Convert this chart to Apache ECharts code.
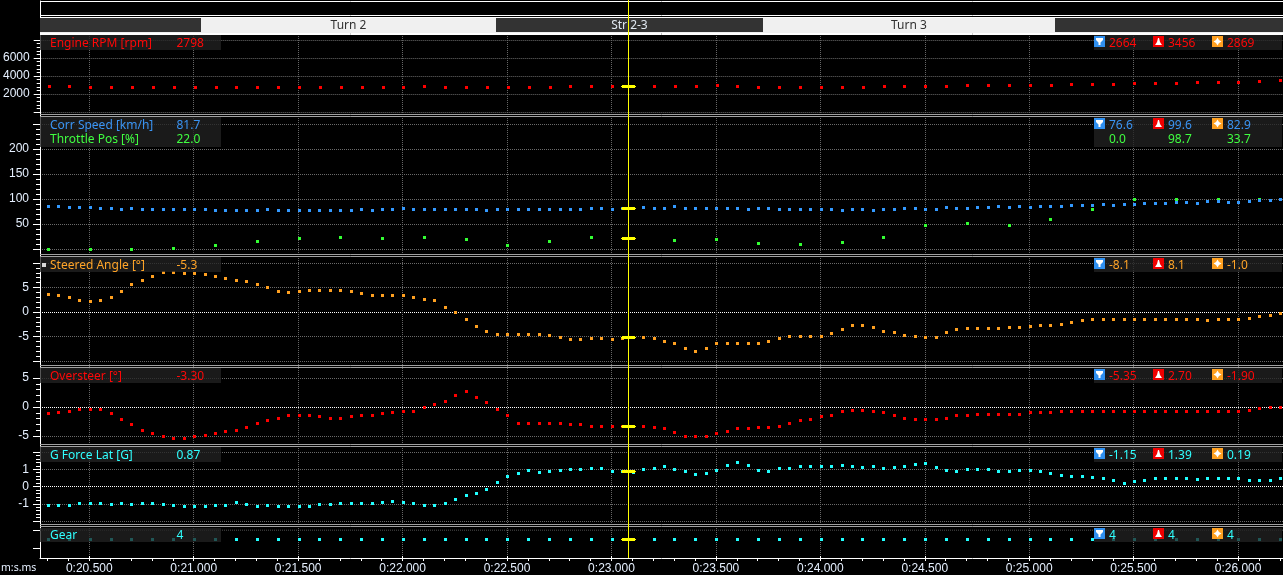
<!DOCTYPE html>
<html>
<head>
<meta charset="utf-8">
<title>Telemetry</title>
<style>html,body{margin:0;padding:0;background:#000}#chart{width:1283px;height:575px}</style>
<script src="https://cdn.jsdelivr.net/npm/echarts@6/dist/echarts.min.js"></script>
</head>
<body>
<div id="chart"></div>
<script>
// Lap-time window, seconds
const timeMin = 20.264;
const timeMax = 26.215;
const cursorTime = 23.08;
const firstSample = 20.304;
const sampleStep = 0.05;
const timeTicks = [20.5, 21, 21.5, 22, 22.5, 23, 23.5, 24, 24.5, 25, 25.5, 26];
const timeSubTicks = [20.3,20.4,20.5,20.6,20.7,20.8,20.9,21,21.1,21.2,21.3,21.4,21.5,21.6,21.7,21.8,21.9,22,22.1,22.2,22.3,22.4,22.5,22.6,22.7,22.8,22.9,23,23.1,23.2,23.3,23.4,23.5,23.6,23.7,23.8,23.9,24,24.1,24.2,24.3,24.4,24.5,24.6,24.7,24.8,24.9,25,25.1,25.2,25.3,25.4,25.5,25.6,25.7,25.8,25.9,26,26.1,26.2];

// Track sections: name, start time, end time
const sectionNames = ['', 'Turn 2', 'Str 2-3', 'Turn 3', ''];
const sectionStart = [20.264, 21.035, 22.447, 23.725, 25.123];
const sectionEnd = [21.035, 22.447, 23.725, 25.123, 26.215];

// Channels sampled every 0.1 s
const engineRpm = [2838,2838,2726,2726,2726,2726,2726,2726,2726,2726,2726,2726,2726,2726,2726,2726,2726,2726,2838,
  2726,2726,2726,2726,2726,2726,2838,2838,2838,2838,2838,2838,2838,2950,2838,2726,2726,2726,2726,2726,
  2726,2838,2838,2838,2838,2950,2950,2950,2950,2950,3062,3062,3062,3175,3175,3175,3287,3287,3287,3399,3456];
const gear = [4,4,4,4,4,4,4,4,4,4,4,4,4,4,4,4,4,4,4,4,4,4,4,4,4,4,4,4,4,4,4,4,4,4,4,4,4,4,4,4,4,4,4,4,4,4,4,4,4,4,4,4,4,4,4,4,4,4,4,4];

// Sampled every 0.2 s
const throttlePos = [0,0,0,2,8,16,22,24,22,24,20,8,16,24,22,18,20,12,10,14,24,48,52,48,60,80,98.7,98.7,98.7,98.7];

// Sampled every 0.05 s
const corrSpeed = [85.3,85.3,83.3,83.3,83.3,81.3,81.3,79.3,81.3,79.3,79.3,79.3,79.3,79.3,79.3,79.3,77.3,77.3,77.3,77.3,77.3,79.3,76.6,77.3,76.6,77.3,77.3,77.3,77.3,77.3,79.3,77.3,79.3,79.3,81.3,79.3,79.3,
  79.9,79.9,79.9,79.9,79.9,77.9,79.9,79.9,79.9,79.9,79.9,79.9,79.9,79.9,79.9,81.9,81.9,79.9,81.9,81.9,83.9,81.9,81.9,85.9,81.9,81.9,81.9,81.9,81.9,81.9,79.9,81.9,81.9,79.9,79.9,79.9,79.9,79.9,79.9,77.9,79.9,
  80,78,80,80,82,82,80,80,84,82,82,84,84,86,84,86,84,86,86,86,88,88,88,90,88,90,90,92,92,92,94,94,92,96,96,94,94,96,98,98,99.6];
const steeredAngle = [3.5,3.3,2.9,2.3,2.1,2.3,2.9,4.2,5.6,6.5,7.3,8.1,8.1,7.9,7.9,7.7,7.3,6.9,6.5,6.3,5.6,5.0,4.2,4.0,4.2,4.4,4.4,4.4,4.4,4.2,3.8,3.3,3.3,3.3,3.3,2.9,2.5,
  2.3,1.0,0,-1.5,-2.9,-4.0,-4.6,-4.6,-4.6,-4.6,-4.6,-4.8,-5.2,-5.6,-5.6,-5.4,-5.4,-5.6,-5.4,-5.2,-5.2,-5.4,-6.0,-6.5,-7.5,-8.1,-7.5,-6.5,-6.5,-6.5,-6.5,-6.5,-6.0,-5.4,-5.0,-5.0,-5.0,-5.0,-4.4,-3.5,-2.7,
  -2.7,-3.1,-4.0,-4.2,-4.8,-5.0,-5.2,-5.2,-4.2,-3.5,-3.3,-3.3,-3.3,-3.3,-3.1,-3.1,-2.9,-2.7,-2.7,-2.5,-2.1,-1.7,-1.5,-1.5,-1.5,-1.5,-1.5,-1.5,-1.5,-1.5,-1.5,-1.5,-1.5,-1.7,-1.5,-1.5,-1.5,-1.3,-1.0,-0.8,-0.4];
const oversteer = [-1.2,-0.9,-0.7,-0.35,-0.35,-0.5,-1.2,-2.07,-3.1,-3.97,-4.65,-5.17,-5.35,-5.35,-5.0,-4.83,-4.65,-4.31,-3.97,-3.45,-2.93,-2.41,-1.9,-1.55,-1.55,-1.55,-1.72,-1.9,-1.9,-1.72,-1.55,-1.38,-1.2,-1.03,-0.86,-0.7,-0.17,
  0.5,1.03,1.9,2.7,1.72,0.7,-0.35,-1.55,-2.93,-2.76,-2.76,-2.76,-2.93,-3.1,-3.1,-3.28,-3.28,-3.28,-3.28,-3.28,-3.28,-3.45,-3.79,-4.48,-5.0,-5.17,-5.0,-4.65,-4.14,-3.79,-3.79,-3.62,-3.45,-3.28,-2.76,-2.41,-2.24,-1.72,-1.38,-0.86,-0.52,
  -0.52,-0.69,-1.03,-1.55,-1.9,-2.07,-2.24,-2.07,-1.9,-1.55,-1.38,-1.21,-1.21,-1.21,-1.21,-1.21,-1.03,-1.03,-1.03,-0.86,-0.86,-0.69,-0.69,-0.69,-0.86,-0.86,-0.86,-0.86,-0.69,-0.69,-0.69,-0.69,-0.69,-0.69,-0.69,-0.69,-0.69,-0.52,-0.34,-0.17,0];
const gForceLat = [-1.08,-1.08,-1.08,-0.97,-0.97,-0.97,-1.02,-0.97,-1.02,-0.97,-0.97,-1.02,-1.08,-1.14,-1.14,-1.14,-1.08,-1.08,-0.91,-1.02,-1.14,-1.08,-1.14,-1.15,-1.14,-1.14,-1.02,-1.02,-0.97,-0.97,-0.97,-0.97,-0.91,-0.85,-0.91,-0.97,-1.08,
  -1.08,-0.97,-0.73,-0.5,-0.39,-0.15,0.25,0.6,0.77,0.95,0.83,0.89,0.95,1.0,1.0,1.06,1.06,0.89,0.89,0.83,1.0,1.06,1.18,1.0,0.89,0.71,0.77,0.95,1.24,1.39,1.24,0.95,0.89,1.06,1.06,1.18,1.18,1.18,1.18,1.24,1.18,
  1.12,1.18,1.06,1.12,1.18,1.29,1.35,1.12,0.95,0.89,1.0,1.0,1.0,0.89,0.89,0.95,0.95,0.89,0.77,0.66,0.6,0.6,0.54,0.48,0.37,0.19,0.31,0.37,0.48,0.48,0.48,0.48,0.43,0.48,0.48,0.48,0.48,0.37,0.37,0.37,0.48];

// Readouts: value at cursor, minimum, maximum, average
const rpmReadout = ['2798', '2664', '3456', '2869'];
const speedReadout = ['81.7', '76.6', '99.6', '82.9'];
const throttleReadout = ['22.0', '0.0', '98.7', '33.7'];
const steeredReadout = ['-5.3', '-8.1', '8.1', '-1.0'];
const oversteerReadout = ['-3.30', '-5.35', '2.70', '-1.90'];
const gForceReadout = ['0.87', '-1.15', '1.39', '0.19'];
const gearReadout = ['4', '4', '4', '4'];

const RED = '#ff0000', BLUE = '#3399ff', GREEN = '#33ff33', ORANGE = '#ffa020', CYAN = '#20ffff';
const TEXT_RED = '#ff0808', TEXT_BLUE = '#3a94f4', TEXT_GREEN = '#40ff40', TEXT_ORANGE = '#ffa428', TEXT_CYAN = '#30ffff';
const FONT = '12px "Noto Sans"';
const AXIS_FONT = '11.5px "Noto Sans"';
const GRID_GREY = '#6a6a6a';
const PLOT_LEFT = 40, PLOT_WIDTH = 1243, AXIS_BOTTOM = 558;

const dotted = { type: [1, 1], width: 1 };

// Value panels, top to bottom
const panels = [
  { top: 40, bottom: 112, min: 0, max: 8000, interval: 2000, edgeLabels: false, colors: [GRID_GREY] },
  { top: 124, bottom: 249, min: 0, max: 250, interval: 50, edgeLabels: false, colors: [GRID_GREY] },
  { top: 263, bottom: 361, min: -10, max: 10, interval: 5, edgeLabels: false, colors: [GRID_GREY, GRID_GREY, '#ffffff', GRID_GREY, GRID_GREY] },
  { top: 378, bottom: 436, min: -5, max: 5, interval: 5, edgeLabels: true, colors: [GRID_GREY, '#ffffff', GRID_GREY] },
  { top: 452, bottom: 521, min: -2, max: 2, interval: 1, edgeLabels: false, colors: [GRID_GREY, GRID_GREY, '#ffffff', GRID_GREY, GRID_GREY] }
];

const grids = [], xAxes = [], yAxes = [], series = [];

function hiddenX() {
  return { type: 'value', min: timeMin, max: timeMax, show: false };
}

panels.forEach(function (p, idx) {
  grids.push({ left: PLOT_LEFT, width: PLOT_WIDTH, top: p.top, height: p.bottom - p.top });
  xAxes.push(Object.assign(hiddenX(), { gridIndex: idx }));
  yAxes.push({
    type: 'value', gridIndex: idx, min: p.min, max: p.max, interval: p.interval,
    axisLine: { show: false },
    axisTick: { show: true, length: 7, lineStyle: { color: '#ffffff' } },
    minorTick: { show: true, splitNumber: 5, length: 4, lineStyle: { color: '#ffffff' } },
    minorSplitLine: { show: false },
    splitLine: { show: true, lineStyle: Object.assign({ color: p.colors }, dotted) },
    axisLabel: {
      color: '#e6f0ff', font: AXIS_FONT, margin: 11,
      showMinLabel: p.edgeLabels, showMaxLabel: p.edgeLabels,
      formatter: function (v) { return String(v); }
    }
  });
});

// Gear panel: the axis floor doubles as the time axis position
const GEAR = panels.length;
grids.push({ left: PLOT_LEFT, width: PLOT_WIDTH, top: 530, height: AXIS_BOTTOM - 530 });
xAxes.push(Object.assign(hiddenX(), { gridIndex: GEAR }));
yAxes.push({
  type: 'value', gridIndex: GEAR, min: 2, max: 5, interval: 1,
  axisLine: { show: false },
  axisTick: { show: true, length: 7, customValues: [3, 5], lineStyle: { color: '#ffffff' } },
  splitLine: { show: false },
  axisLabel: { show: false }
});

// Vertical time grid and the time labels
const TIMEGRID = GEAR + 1;
grids.push({ left: PLOT_LEFT, width: PLOT_WIDTH, top: 34, height: AXIS_BOTTOM - 34 });
xAxes.push({
  type: 'value', gridIndex: TIMEGRID, min: timeMin, max: timeMax, position: 'bottom',
  axisLine: { show: false },
  axisTick: { show: true, length: 5, customValues: timeTicks, lineStyle: { color: '#ffffff' } },
  splitLine: { show: true, lineStyle: Object.assign({ color: '#666666' }, dotted) },
  axisLabel: {
    customValues: timeTicks, color: '#e6f0ff', font: AXIS_FONT, margin: 7,
    formatter: function (v) { return '0:' + Number(v).toFixed(3); }
  }
});
yAxes.push({ type: 'value', gridIndex: TIMEGRID, min: 0, max: 1, show: false });

// Frame axes and the cursor line
const FRAME = TIMEGRID + 1;
grids.push({ left: PLOT_LEFT, width: PLOT_WIDTH, top: 1, height: AXIS_BOTTOM - 1 });
xAxes.push({
  type: 'value', gridIndex: FRAME, min: timeMin, max: timeMax, position: 'bottom',
  axisLine: { show: true, lineStyle: { color: '#ffffff', width: 1 } },
  axisTick: { show: true, length: 3, customValues: timeSubTicks, lineStyle: { color: '#ffffff' } },
  splitLine: { show: false }, axisLabel: { show: false }
});
yAxes.push({
  type: 'value', gridIndex: FRAME, min: 0, max: 1, position: 'left',
  axisLine: { show: true, onZero: false, lineStyle: { color: '#ffffff', width: 1 } },
  axisTick: { show: false }, splitLine: { show: false }, axisLabel: { show: false }
});
series.push({
  type: 'custom', xAxisIndex: FRAME, yAxisIndex: FRAME, z: 14, silent: true, clip: false,
  data: [[cursorTime, 0, 1]],
  renderItem: function (params, api) {
    const top = api.coord([api.value(0), api.value(2)]);
    const bottom = api.coord([api.value(0), api.value(1)]);
    const x = Math.round(top[0] - 0.5);
    return { type: 'rect', shape: { x: x, y: top[1] - 1, width: 1, height: bottom[1] - top[1] + 1 }, style: { fill: '#ffff00' } };
  }
});

// Section band
const BAND = FRAME + 1;
grids.push({ left: PLOT_LEFT, width: PLOT_WIDTH, top: 18, height: 14 });
xAxes.push(Object.assign(hiddenX(), { gridIndex: BAND }));
yAxes.push({ type: 'value', gridIndex: BAND, min: 0, max: 1, show: false });
series.push({
  type: 'custom', xAxisIndex: BAND, yAxisIndex: BAND, z: 3, silent: true, clip: false,
  data: sectionNames.map(function (n, i) { return [sectionStart[i], sectionEnd[i], n]; }),
  renderItem: function (params, api) {
    const a = api.coord([api.value(0), 1]);
    const b = api.coord([api.value(1), 0]);
    const name = sectionNames[params.dataIndex];
    const dark = params.dataIndex % 2 === 0;
    return {
      type: 'group',
      children: [
        { type: 'rect', shape: { x: Math.round(a[0]), y: a[1], width: Math.round(b[0]) - Math.round(a[0]), height: b[1] - a[1] },
          style: { fill: dark ? '#333333' : '#f0f0f0' } },
        { type: 'text', style: {
            x: (a[0] + b[0]) / 2, y: (a[1] + b[1]) / 2 + 0.5, text: name, font: FONT,
            fill: dark ? '#e0e8f0' : '#303030', align: 'center', verticalAlign: 'middle' } }
      ]
    };
  }
});

// A point series on a panel; stride is the channel's sample interval in base steps.
// Marks snap to whole pixels so the small squares stay crisp.
function samples(values, stride) {
  return values.map(function (v, i) {
    return [+(firstSample + i * stride * sampleStep).toFixed(3), v];
  });
}
function pointSeries(grid, values, stride, color) {
  return {
    type: 'custom', xAxisIndex: grid, yAxisIndex: grid, silent: true, z: 4,
    data: samples(values, stride),
    renderItem: function (params, api) {
      const c = api.coord([api.value(0), api.value(1)]);
      return { type: 'rect',
        shape: { x: Math.round(c[0] - 1.5), y: Math.round(c[1] - 1.5), width: 3, height: 3 },
        style: { fill: color } };
    }
  };
}
// The yellow value marker sitting on the cursor line
function cursorBars(grid, value) {
  return {
    type: 'custom', xAxisIndex: grid, yAxisIndex: grid, silent: true, z: 13,
    data: [[cursorTime, value]],
    renderItem: function (params, api) {
      const c = api.coord([api.value(0), api.value(1)]);
      const x = Math.round(c[0] - 0.5), y = Math.round(c[1] - 0.5);
      return { type: 'group', children: [
        { type: 'rect', shape: { x: x - 7, y: y, width: 15, height: 1 }, style: { fill: '#ffff00' } },
        { type: 'rect', shape: { x: x - 6, y: y - 1, width: 13, height: 3 }, style: { fill: '#ffff00' } }
      ] };
    }
  };
}

series.push(pointSeries(0, engineRpm, 2, RED));
series.push(pointSeries(1, throttlePos, 4, GREEN));
series.push(pointSeries(1, corrSpeed, 1, BLUE));
series.push(pointSeries(2, steeredAngle, 1, ORANGE));
series.push(pointSeries(3, oversteer, 1, RED));
series.push(pointSeries(4, gForceLat, 1, CYAN));
series.push(pointSeries(GEAR, gear, 2, CYAN));
series.push(cursorBars(0, Number(rpmReadout[0])));
series.push(cursorBars(1, Number(speedReadout[0])));
series.push(cursorBars(1, Number(throttleReadout[0])));
series.push(cursorBars(2, Number(steeredReadout[0])));
series.push(cursorBars(3, Number(oversteerReadout[0])));
series.push(cursorBars(4, Number(gForceReadout[0])));
series.push(cursorBars(GEAR, Number(gearReadout[0])));

// Gear panel's single upper grid line
series.push({
  type: 'line', xAxisIndex: GEAR, yAxisIndex: GEAR, z: 2, silent: true, showSymbol: false,
  lineStyle: Object.assign({ color: GRID_GREY }, dotted),
  data: [[timeMin, 5], [timeMax, 5]]
});

// Static furniture: frames, separators, legends and stat icons
const graphics = [];
function hline(y, color) {
  graphics.push({ type: 'line', z: 6, silent: true,
    shape: { x1: PLOT_LEFT, y1: y, x2: 1283, y2: y },
    style: { stroke: color, lineWidth: 1 } });
}
function text(x, y, str, color, font) {
  graphics.push({ type: 'text', z: 12, silent: true, x: x, y: y,
    style: { text: str, font: font || FONT, fill: color, verticalAlign: 'middle', align: 'left' } });
}
function box(x, y, w, h) {
  graphics.push({ type: 'rect', z: 11, silent: true,
    shape: { x: x, y: y, width: w, height: h },
    style: { fill: 'rgba(34,34,34,0.76)' } });
}
function icon(x, y, color, points) {
  graphics.push({ type: 'group', x: x, y: y, z: 12, silent: true, children: [
    { type: 'rect', z: 12, shape: { x: 0, y: 0, width: 11, height: 11 }, style: { fill: color } },
    { type: 'polygon', z: 12, shape: { points: points }, style: { fill: '#ffffff' } }
  ] });
}
const FUNNEL = [[2, 2], [9, 2], [9, 4], [6.5, 6.5], [6.5, 9], [4.5, 9], [4.5, 6.5], [2, 4]];
const CONE = [[5, 2], [6, 2], [7, 6], [9, 9], [2, 9], [4, 6]];
const DIAMOND = [[5.5, 1.5], [7, 4], [9.5, 5.5], [7, 7], [5.5, 9.5], [4, 7], [1.5, 5.5], [4, 4]];

function legendRows(top, height, iconY, rows) {
  box(40, top, 181, height);
  box(1094, top, 188, height);
  icon(1094, iconY, '#3090f0', FUNNEL);
  icon(1153, iconY, '#f00000', CONE);
  icon(1212, iconY, '#ffa020', DIAMOND);
  rows.forEach(function (r) {
    text(50, r.y, r.name, r.color);
    text(176.5, r.y, r.values[0], r.color);
    text(1109, r.y, r.values[1], r.color);
    text(1168, r.y, r.values[2], r.color);
    text(1227, r.y, r.values[3], r.color);
  });
}

// Top frames
graphics.push({ type: 'rect', z: 1, silent: true, shape: { x: 40, y: 17, width: 1243, height: 16 }, style: { fill: '#f0f0f0' } });
hline(1.5, '#ffffff'); hline(15.5, '#ffffff'); hline(17.5, '#ffffff'); hline(33.5, '#ffffff'); hline(34.5, '#ffffff');

// Panel separators
[114, 254, 365, 444, 524].forEach(function (r) {
  hline(r + 0.5, '#a0a0a0');
  hline(r + 2.5, '#a0a0a0');
});

legendRows(35, 15, 36, [{ y: 43.5, name: 'Engine RPM [rpm]', color: TEXT_RED, values: rpmReadout }]);
legendRows(117, 30, 118, [
  { y: 125.5, name: 'Corr Speed [km/h]', color: TEXT_BLUE, values: speedReadout },
  { y: 139.5, name: 'Throttle Pos [%]', color: TEXT_GREEN, values: throttleReadout }
]);
legendRows(257, 15, 258, [{ y: 265.5, name: 'Steered Angle [°]', color: TEXT_ORANGE, values: steeredReadout }]);
graphics.push({ type: 'rect', z: 12, silent: true, shape: { x: 42, y: 263, width: 4, height: 4 }, style: { fill: '#d8d8d8' } });
legendRows(368, 15, 369, [{ y: 376.5, name: 'Oversteer [°]', color: TEXT_RED, values: oversteerReadout }]);
legendRows(447, 15, 448, [{ y: 455.5, name: 'G Force Lat [G]', color: TEXT_CYAN, values: gForceReadout }]);
legendRows(528, 14, 528, [{ y: 536, name: 'Gear', color: TEXT_CYAN, values: gearReadout }]);
text(1, 568, 'm:s.ms', '#e6f0ff', '10.5px "Noto Sans"');

const chart = echarts.init(document.getElementById('chart'), null, { renderer: 'canvas' });
chart.setOption({
  animation: false,
  backgroundColor: '#000000',
  grid: grids,
  xAxis: xAxes,
  yAxis: yAxes,
  series: series,
  graphic: { elements: graphics }
});
</script>
</body>
</html>
